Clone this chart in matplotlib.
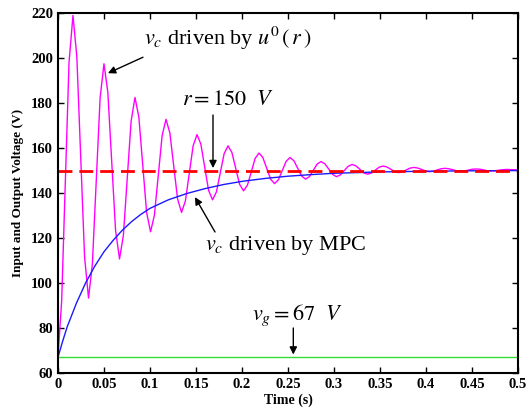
import matplotlib
matplotlib.use("Agg")
import matplotlib.pyplot as plt

plt.rcParams['font.family'] = ['Liberation Serif', 'DejaVu Serif']
plt.rcParams['mathtext.fontset'] = 'stix'

# reference and input voltage
r_ref = 150
v_g = 67

# v_c driven by u0(r) (damped oscillation)
t_u0 = [0.0, 0.004, 0.008, 0.012,
        0.0163, 0.0205, 0.0247, 0.0289, 0.0332, 0.0374, 0.0416, 0.0458,
        0.0500, 0.0542, 0.0584, 0.0626, 0.0669, 0.0711, 0.0753, 0.0795,
        0.0837, 0.0879, 0.0921, 0.0963, 0.1006, 0.1048, 0.1090, 0.1132,
        0.1174, 0.1216, 0.1258, 0.1300, 0.1343, 0.1385, 0.1427, 0.1469,
        0.1511, 0.1553, 0.1595, 0.1637, 0.1680, 0.1722, 0.1764, 0.1806,
        0.1848, 0.1890, 0.1932, 0.1974, 0.2017, 0.2059, 0.2101, 0.2143,
        0.2185, 0.2227, 0.2269, 0.2311, 0.2354, 0.2396, 0.2438, 0.2480,
        0.2522, 0.2564, 0.2606, 0.2648, 0.2691, 0.2733, 0.2775, 0.2817,
        0.2859, 0.2901, 0.2943, 0.2985, 0.3028, 0.3070, 0.3112, 0.3154,
        0.3196, 0.3238, 0.3280, 0.3322, 0.3365, 0.3407, 0.3449, 0.3491,
        0.3533, 0.3575, 0.3617, 0.3659, 0.3702, 0.3744, 0.3786, 0.3828,
        0.3870, 0.3912, 0.3954, 0.3996, 0.4039, 0.4081, 0.4123, 0.4165,
        0.4207, 0.4249, 0.4291, 0.4333, 0.4376, 0.4418, 0.4460, 0.4502,
        0.4544, 0.4586, 0.4628, 0.4670, 0.4713, 0.4755, 0.4797, 0.4839,
        0.4881, 0.5000]
v_u0 = [67, 92, 145, 198,
        219, 200.6, 156.2, 111.7, 93.3, 108.5, 145.4, 182.3,
        197.5, 184.8, 154.1, 123.4, 110.7, 121.2, 146.6, 172.0,
        182.5, 173.8, 152.7, 131.5, 122.8, 130.1, 147.8, 165.5,
        172.8, 166.8, 152.1, 137.4, 131.4, 136.5, 148.7, 161.0,
        166.0, 161.8, 151.5, 141.2, 137.0, 140.5, 149.0, 157.5,
        161.0, 158.1, 151.0, 143.9, 141.0, 143.5, 149.4, 155.4,
        157.8, 155.8, 151.0, 146.2, 144.2, 145.9, 150.0, 154.1,
        155.8, 154.4, 151.0, 147.6, 146.2, 147.3, 150.1, 152.9,
        154.0, 153.0, 150.7, 148.3, 147.3, 148.1, 150.0, 151.9,
        152.7, 152.1, 150.6, 149.0, 148.4, 148.9, 150.2, 151.5,
        152.0, 151.6, 150.6, 149.5, 149.1, 149.4, 150.3, 151.1,
        151.4, 151.1, 150.5, 149.8, 149.5, 149.7, 150.3, 150.8,
        151.0, 150.8, 150.4, 149.9, 149.7, 149.9, 150.2, 150.6,
        150.7, 150.6, 150.3, 149.9, 149.8, 149.9, 150.2, 150.4,
        150.5, 150.3]

# v_c driven by MPC
t_mpc = [0, 0.005, 0.01, 0.02, 0.03, 0.04, 0.05, 0.06, 0.07, 0.08, 0.09, 0.1,
         0.12, 0.14, 0.16, 0.18, 0.2, 0.225, 0.25, 0.275, 0.3, 0.35, 0.4, 0.45, 0.5]
v_mpc = [67, 74, 80.5, 91, 100, 107.5, 113.9, 119, 123.5, 127.3, 130.5, 133.2,
         137, 139.8, 142, 143.8, 145.2, 146.5, 147.5, 148.2, 148.8, 149.4, 149.7, 149.9, 150]

x_ticks = [0, 0.05, 0.1, 0.15, 0.2, 0.25, 0.3, 0.35, 0.4, 0.45, 0.5]
x_labels = ['0', '0.05', '0.1', '0.15', '0.2', '0.25', '0.3', '0.35', '0.4', '0.45', '0.5']
y_ticks = [60, 80, 100, 120, 140, 160, 180, 200, 220]

fig = plt.figure(figsize=(5.28, 4.11), dpi=100)
ax = fig.add_axes([0.1098, 0.0925, 0.8712, 0.8755])

ax.plot(t_u0, v_u0, color='#ff00ff', lw=1.0)
ax.plot(t_mpc, v_mpc, color='#1a1aff', lw=1.0)
ax.plot([0, 0.5], [r_ref, r_ref], color='#ff0000', lw=2.0, ls=(0, (5, 2.5)))
ax.plot([0, 0.5], [v_g, v_g], color='#33dd33', lw=1.0)

ax.set_xlim(0, 0.5)
ax.set_ylim(60, 220)
ax.set_xticks(x_ticks)
ax.set_xticklabels(x_labels)
ax.set_yticks(y_ticks)
ax.tick_params(direction='in', length=4, width=1, top=True, right=True, labelsize=10.5)
for lab in ax.get_xticklabels() + ax.get_yticklabels():
    lab.set_fontweight('bold')
for s in ax.spines.values():
    s.set_linewidth(1.5)

ax.set_xlabel('Time (s)', fontsize=10, fontweight='bold', labelpad=2)
ax.set_ylabel('Input and Output Voltage (V)', fontsize=9.5, fontweight='bold', labelpad=5)

arrow = dict(arrowstyle='-|>', color='k', lw=1.0, mutation_scale=11, shrinkA=0, shrinkB=0)

ax.annotate('', xy=(0.0543, 193.3), xytext=(0.0924, 200.4), arrowprops=arrow)
ax.text(0.0935, 205.8, r'$v_c$ driven by $u^0\,\left(\,r\,\right)$', fontsize=16, va='baseline')

ax.annotate('', xy=(0.1685, 151.1), xytext=(0.1685, 174.7), arrowprops=arrow)
ax.text(0.1348, 179.1, r'$r=150\ \ V$', fontsize=16, va='baseline')

ax.annotate('', xy=(0.1489, 138.2), xytext=(0.1707, 122.7), arrowprops=arrow)
ax.text(0.1598, 114.7, r'$v_c$ driven by MPC', fontsize=16, va='baseline')

ax.annotate('', xy=(0.2558, 68.2), xytext=(0.2558, 80), arrowprops=arrow)
ax.text(0.2105, 83.6, r'$v_g=67\ \ V$', fontsize=16, va='baseline')

fig.savefig('out.png', dpi=100)
